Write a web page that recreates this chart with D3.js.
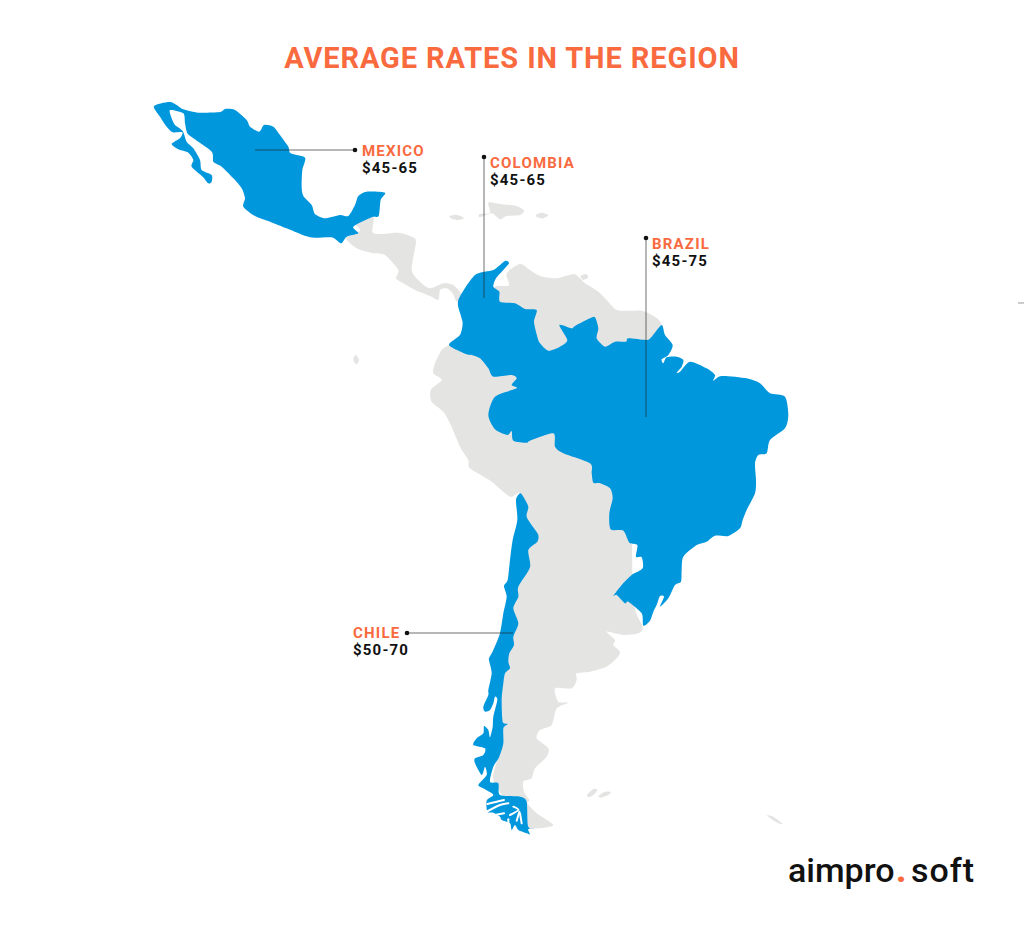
<!DOCTYPE html>
<html>
<head>
<meta charset="utf-8">
<title>Average rates in the region</title>
<script src="https://cdn.jsdelivr.net/npm/d3@7"></script>
<style>
  html, body { margin: 0; padding: 0; background: #fff; }
  svg { display: block; }
  text { font-family: Roboto, sans-serif; }
</style>
</head>
<body>
<svg id="map" width="1024" height="937"></svg>
<script>
const titleText = "AVERAGE RATES IN THE REGION";
const countries = ["MEXICO", "COLOMBIA", "BRAZIL", "CHILE"];
const rates = ["$45-65", "$45-65", "$45-75", "$50-70"];
const logoParts = ["aimpro", ".", "soft"];

// outlines, on a grid of 3 units per pixel
const mexico = [[462,318],[512,306],[550,328],[595,338],[660,336],[675,327],[705,330],[740,360],[750,380],[778,395],[792,375],[820,380],[840,405],[865,440],[872,460],[915,473],[907,510],[905,560],[910,588],[935,615],[945,642],[975,655],[1020,645],[1045,648],[1065,615],[1075,588],[1100,575],[1155,578],[1142,600],[1136,648],[1115,652],[1060,680],[1075,700],[1040,710],[1023,730],[995,712],[930,712],[860,685],[810,665],[765,648],[730,620],[735,595],[725,565],[700,535],[665,500],[640,485],[635,455],[580,415],[562,400],[555,370],[550,340],[510,330],[515,355],[525,375],[548,393],[560,425],[580,445],[600,480],[605,510],[635,525],[635,545],[625,550],[608,530],[575,500],[580,480],[565,458],[535,448],[515,432],[540,415],[547,397],[518,397],[500,380],[480,350]];

const centralAmerica = [[1065,665],[1120,650],[1120,700],[1195,698],[1235,710],[1248,725],[1235,810],[1260,845],[1290,865],[1330,850],[1360,855],[1385,885],[1370,905],[1358,880],[1340,865],[1320,870],[1315,900],[1290,888],[1245,870],[1210,850],[1188,835],[1195,810],[1155,765],[1120,760],[1070,745],[1038,715],[1070,700],[1080,690]];

const colombiaBrazil = [[1375,900],[1425,825],[1480,810],[1515,783],[1527,790],[1510,810],[1488,835],[1480,860],[1498,875],[1500,905],[1545,910],[1575,927],[1610,930],[1602,965],[1612,1010],[1620,1030],[1645,1052],[1680,1040],[1702,1020],[1678,975],[1715,985],[1725,978],[1770,955],[1785,952],[1795,985],[1790,1015],[1815,1040],[1845,1025],[1878,1025],[1885,1015],[1940,1020],[1955,1010],[1985,975],[1995,1005],[2018,1035],[2005,1065],[1985,1078],[1990,1090],[2000,1072],[2030,1070],[2050,1080],[2045,1100],[2030,1118],[2040,1115],[2070,1085],[2120,1105],[2145,1125],[2140,1142],[2165,1128],[2240,1135],[2280,1150],[2310,1180],[2355,1190],[2365,1245],[2355,1285],[2310,1320],[2300,1360],[2275,1365],[2265,1390],[2268,1440],[2265,1480],[2240,1530],[2228,1560],[2220,1585],[2185,1608],[2145,1607],[2120,1625],[2090,1635],[2050,1670],[2045,1710],[2043,1745],[2025,1755],[2005,1795],[1980,1820],[1992,1790],[1980,1788],[1970,1815],[1960,1835],[1950,1862],[1930,1877],[1925,1840],[1885,1805],[1875,1810],[1850,1785],[1840,1788],[1865,1755],[1895,1725],[1928,1705],[1925,1672],[1908,1670],[1912,1635],[1888,1628],[1870,1592],[1832,1588],[1828,1540],[1838,1495],[1830,1465],[1800,1450],[1780,1448],[1775,1420],[1770,1390],[1690,1360],[1665,1340],[1660,1300],[1590,1322],[1580,1328],[1540,1322],[1535,1293],[1522,1305],[1485,1288],[1465,1245],[1485,1190],[1550,1165],[1535,1155],[1550,1135],[1535,1125],[1480,1130],[1465,1105],[1440,1075],[1415,1065],[1400,1063],[1347,1035],[1380,1005],[1388,970],[1382,945]];

const chile = [[1560,1480],[1548,1500],[1552,1560],[1538,1620],[1530,1680],[1523,1740],[1512,1758],[1520,1790],[1510,1840],[1500,1900],[1480,1950],[1467,1975],[1468,1985],[1475,2020],[1465,2070],[1465,2085],[1450,2120],[1455,2135],[1470,2130],[1480,2110],[1485,2090],[1492,2100],[1480,2150],[1478,2180],[1470,2212],[1465,2190],[1452,2178],[1450,2200],[1430,2215],[1420,2235],[1455,2245],[1450,2265],[1425,2275],[1425,2290],[1445,2325],[1455,2300],[1460,2325],[1435,2355],[1455,2368],[1480,2385],[1460,2402],[1462,2435],[1480,2438],[1500,2450],[1505,2460],[1530,2470],[1535,2490],[1545,2475],[1555,2490],[1580,2500],[1590,2503],[1585,2487],[1615,2487],[1585,2480],[1580,2405],[1560,2390],[1500,2385],[1495,2350],[1470,2345],[1480,2300],[1498,2270],[1510,2230],[1510,2185],[1523,2172],[1508,2165],[1505,2100],[1510,2050],[1515,2020],[1530,2005],[1525,1985],[1528,1960],[1542,1935],[1540,1910],[1555,1870],[1540,1825],[1555,1790],[1555,1760],[1590,1702],[1585,1650],[1612,1625],[1615,1605],[1602,1585],[1580,1550],[1585,1520],[1570,1490]];

// whole continent, the blue countries go on top of it
const southAmerica = [[1485,860],[1510,858],[1528,855],[1520,820],[1560,792],[1590,810],[1620,828],[1670,835],[1720,822],[1740,835],[1755,850],[1795,875],[1820,900],[1850,930],[1900,932],[1935,935],[1985,975],[1950,1100],[1900,1500],[1900,1800],[1928,1880],[1915,1900],[1870,1905],[1820,1895],[1845,1920],[1840,1935],[1860,1955],[1850,1975],[1820,2000],[1770,2015],[1730,2020],[1730,2040],[1715,2065],[1665,2065],[1675,2105],[1705,2108],[1670,2125],[1655,2175],[1620,2190],[1610,2215],[1645,2245],[1640,2270],[1605,2305],[1595,2335],[1570,2345],[1572,2375],[1588,2400],[1582,2410],[1610,2440],[1660,2475],[1618,2485],[1570,2480],[1530,2420],[1480,2340],[1490,2280],[1498,2150],[1500,2100],[1500,2050],[1500,2000],[1510,1900],[1525,1820],[1535,1740],[1560,1650],[1565,1550],[1560,1480],[1530,1490],[1475,1445],[1410,1405],[1405,1380],[1380,1340],[1350,1270],[1330,1235],[1295,1205],[1292,1170],[1325,1140],[1300,1120],[1305,1090],[1325,1050],[1347,1035],[1400,1000],[1450,900]];

const islands = [
  [[1465,608],[1500,612],[1550,618],[1572,632],[1560,645],[1520,648],[1500,658],[1475,640],[1440,652],[1438,642],[1470,638]],
  [[1348,648],[1370,644],[1392,654],[1375,660],[1355,656]],
  [[1607,645],[1625,638],[1645,645],[1630,655],[1612,652]],
  [[1060,1075],[1068,1065],[1077,1080],[1070,1093],[1062,1085]],
  [[1742,828],[1758,822],[1765,832],[1750,840]],
  [[1761,2385],[1780,2367],[1792,2370],[1780,2385],[1767,2392]],
  [[1795,2388],[1815,2375],[1832,2376],[1825,2385],[1803,2393]],
  [[2301,2446],[2320,2450],[2349,2472],[2335,2470],[2315,2458]]
];

// white channels across the tip of Chile
const fjords = [
  [[1462,2412],[1490,2405],[1512,2400]],
  [[1458,2436],[1500,2415],[1525,2410]],
  [[1485,2445],[1512,2440]],
  [[1530,2445],[1555,2430],[1540,2420]],
  [[1550,2462],[1558,2435]],
  [[1565,2470],[1560,2440]],
  [[1525,2478],[1525,2458]]
];

const svg = d3.select("#map");
const width = +svg.attr("width");
const height = +svg.attr("height");

const x = d3.scaleLinear().domain([0, width * 3]).range([0, width]);
const y = d3.scaleLinear().domain([0, height * 3]).range([0, height]);

const closedShape = d3.line()
  .x((d) => x(d[0]))
  .y((d) => y(d[1]))
  .curve(d3.curveCardinalClosed.tension(0.25));
const openShape = d3.line()
  .x((d) => x(d[0]))
  .y((d) => y(d[1]))
  .curve(d3.curveCardinal.tension(0.25));

const GREY = "#e4e4e3";
const BLUE = "#0097dd";
const ORANGE = "#f96a3f";

svg.selectAll("path.land")
  .data([southAmerica, centralAmerica, ...islands])
  .enter().append("path")
  .attr("class", "land")
  .attr("d", closedShape)
  .attr("fill", GREY);

svg.selectAll("path.rated")
  .data([mexico, colombiaBrazil, chile])
  .enter().append("path")
  .attr("class", "rated")
  .attr("d", closedShape)
  .attr("fill", BLUE);

svg.selectAll("path.fjord")
  .data(fjords)
  .enter().append("path")
  .attr("class", "fjord")
  .attr("d", openShape)
  .attr("fill", "none")
  .attr("stroke", "#fff")
  .attr("stroke-width", 2)
  .attr("stroke-linecap", "round");

// title
svg.append("text")
  .attr("x", 512)
  .attr("y", 68)
  .attr("text-anchor", "middle")
  .attr("font-size", 29)
  .attr("font-weight", 700)
  .attr("letter-spacing", 0.9)
  .attr("fill", ORANGE)
  .text(titleText);

// callouts: dot, leader end, label start (map grid units)
const callouts = [
  { dot: [1065, 450], end: [765, 450], label: [1086, 468] },
  { dot: [1452, 471], end: [1452, 894], label: [1470, 504] },
  { dot: [1938, 714], end: [1938, 1251], label: [1956, 747] },
  { dot: [1221, 1899], end: [1539, 1899], label: [1059, 1914] }
];

const callout = svg.selectAll("g.callout")
  .data(callouts)
  .enter().append("g")
  .attr("class", "callout");

callout.append("line")
  .attr("x1", (d) => x(d.dot[0]))
  .attr("y1", (d) => y(d.dot[1]))
  .attr("x2", (d) => x(d.end[0]))
  .attr("y2", (d) => y(d.end[1]))
  .attr("stroke", "#222")
  .attr("stroke-opacity", 0.65)
  .attr("stroke-width", 1);

callout.append("circle")
  .attr("cx", (d) => x(d.dot[0]))
  .attr("cy", (d) => y(d.dot[1]))
  .attr("r", 2.3)
  .attr("fill", "#111");

callout.append("text")
  .attr("x", (d) => x(d.label[0]))
  .attr("y", (d) => y(d.label[1]))
  .attr("font-size", 15)
  .attr("font-weight", 700)
  .attr("letter-spacing", 1.2)
  .attr("fill", ORANGE)
  .text((d, i) => countries[i]);

callout.append("text")
  .attr("x", (d) => x(d.label[0]))
  .attr("y", (d) => y(d.label[1]) + 17)
  .attr("font-size", 15)
  .attr("font-weight", 700)
  .attr("letter-spacing", 1.2)
  .attr("fill", "#111")
  .text((d, i) => rates[i]);

// logo
const logoX = [788, 896, 911];
const logoSpacing = [0, 0, 1];
svg.selectAll("text.logo")
  .data(logoParts)
  .enter().append("text")
  .attr("class", "logo")
  .attr("x", (d, i) => logoX[i])
  .attr("y", 882)
  .attr("font-size", 34)
  .attr("font-weight", (d, i) => (i === 1 ? 900 : 500))
  .attr("letter-spacing", (d, i) => logoSpacing[i])
  .attr("fill", (d, i) => (i === 1 ? ORANGE : "#111"))
  .text((d) => d);

// stray dash at the right edge of the picture
svg.append("line")
  .attr("x1", 1018).attr("x2", 1024)
  .attr("y1", 303).attr("y2", 303)
  .attr("stroke", "#999")
  .attr("stroke-width", 1);
</script>
</body>
</html>
